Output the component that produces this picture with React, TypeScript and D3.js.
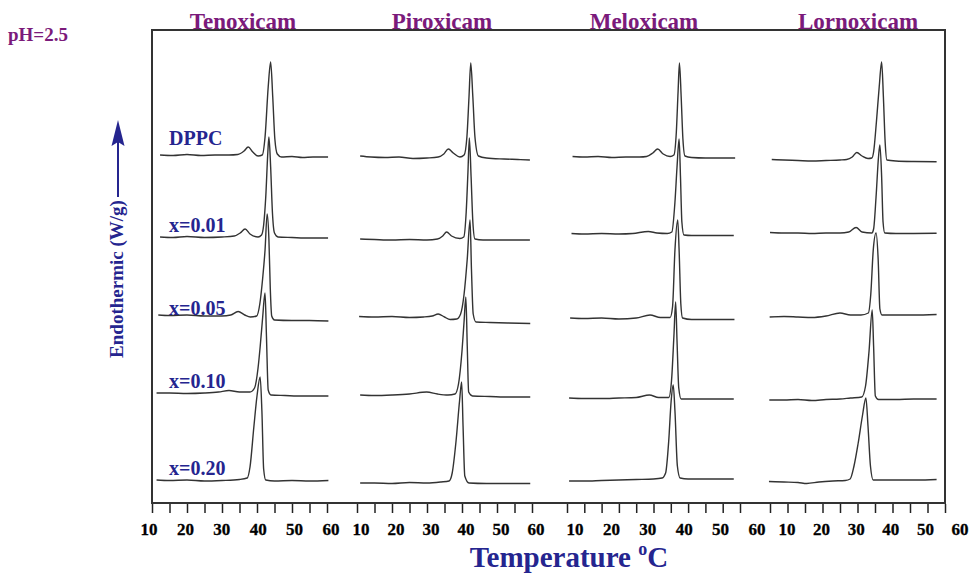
import { useRef, useEffect } from 'react';
import * as d3 from 'd3';

// drug panels and DPPC/drug compositions
const drugs = ['Tenoxicam', 'Piroxicam', 'Meloxicam', 'Lornoxicam'];
const compositions = ['DPPC', 'x=0.01', 'x=0.05', 'x=0.10', 'x=0.20'];
// vertical offset of each thermogram (arbitrary heat-flow units)
const baselineOffsets = [346, 266, 184, 107, 22];

const tickValues = [10, 15, 20, 25, 30, 35, 40, 45, 50, 55, 60];
const labelValues = [10, 20, 30, 40, 50, 60];

// [temperature (°C), heat flow above baseline]
const tenoxicamTraces = [
  [[12.3, 2], [16, 1.5], [20, 2.5], [24, 1.5], [28, 2], [32, 2], [34.5, 2.5], [36.3, 6], [37.5, 10], [38.8, 5], [40.3, 1], [41.5, 2], [42.3, 20], [43.2, 70], [43.9, 95], [44.5, 60], [45.1, 18], [45.8, 3], [47, 0], [50, 0.5], [53, -0.5], [56, 0], [60.3, 0]],
  [[12.3, 0], [16, -0.5], [20, 0.5], [25, -0.5], [30, 0], [33.5, 1], [35.2, 4], [36.6, 8], [38, 3], [40.3, 0], [41.3, 2], [41.9, 12], [42.5, 40], [43.1, 85], [43.4, 100], [43.9, 70], [44.4, 25], [45, 4], [46, 0], [50, -0.5], [55, -1], [60.3, -1]],
  [[11.8, 4], [15, 3.5], [20, 4], [25, 3], [30, 3], [32.5, 4], [34.6, 7.5], [36.5, 4], [38.1, 2], [39.9, 3], [40.8, 15], [41.6, 40], [42.3, 69], [42.9, 105], [43.4, 80], [43.8, 30], [44.2, 3], [45, -1], [50, -1.5], [55, -1.5], [60.4, -2]],
  [[11.3, 3], [15, 3], [20, 2.5], [25, 3], [29, 4], [32, 5.5], [35, 4], [38, 4], [39.3, 8], [40.3, 28], [40.9, 49], [41.6, 78], [42.3, 103], [42.7, 60], [43.2, 6], [44, 1], [48, 0.5], [53, 0], [60.4, 0]],
  [[11.3, 1], [15, 0.5], [20, 1], [25, 0], [30, 0.5], [35, 1.5], [37.2, 3], [38, 14], [39.1, 54], [40, 85], [40.9, 104], [41.4, 70], [41.9, 12], [42.5, 1], [45, 0], [50, 0.5], [55, 0], [60.4, 0.5]],
];

const piroxicamTraces = [
  [[10.9, 1], [14, 0], [18, -0.5], [22, 0], [26, -1.5], [30, -1], [33.2, 0], [34.8, 3], [36.1, 8], [37.5, 4], [39.4, 0], [40.6, 2], [41.4, 20], [42, 60], [42.5, 94], [43.1, 60], [43.7, 20], [44.7, 1], [47, -1], [52, -2], [56, -2.5], [59.4, -3]],
  [[10.9, -2], [15, -2.5], [20, -3], [25, -2.5], [30, -3], [33, -2], [34.5, 1], [35.6, 5], [37, 1], [39.4, -1.5], [40.5, 0], [41.2, 25], [41.7, 65], [42.1, 99], [42.6, 60], [43.1, 15], [43.7, -2], [46, -3], [50, -3], [55, -3], [59.4, -3]],
  [[10.6, 2.5], [15, 2], [20, 2.5], [25, 1.5], [29, 2], [31.5, 3], [33.2, 5], [35, 2], [36.6, -0.5], [38.5, 0], [39.6, 5], [40.6, 25], [41.5, 60], [42.3, 99], [42.7, 50], [43.2, 5], [44, -3], [48, -3.5], [53, -4], [59.5, -4.5]],
  [[10.9, 1], [15, 0.5], [20, 1], [25, 2], [29.9, 4], [33, 2], [36, 1], [38, 2], [39, 12], [40, 45], [40.6, 75], [41.1, 99], [41.5, 50], [41.9, 4], [43, 0], [48, -0.5], [54, -1], [59.5, -1]],
  [[10.9, -2], [15, -2], [20, -2.5], [25, -1.5], [30, -2], [34, -1], [36.3, 0], [37.2, 8], [38.3, 40], [39.3, 80], [39.9, 99], [40.3, 55], [40.8, 5], [42, -2], [47, -2.5], [53, -2.5], [59.5, -2.5]],
];

const meloxicamTraces = [
  [[11.6, 0.5], [15, 0], [19, 0.5], [23, -0.5], [27, 0], [31, 0], [33, 0.5], [34.8, 4], [36.2, 8], [37.8, 3], [39.8, 0.5], [40.9, 2], [41.6, 25], [42.1, 65], [42.5, 94], [43, 60], [43.5, 18], [44.1, 1], [46, -0.5], [50, -1], [55, -1], [58.6, -1]],
  [[11.3, 3.5], [15, 3], [20, 3.5], [25, 3], [29, 3.5], [33.5, 5.5], [36, 4], [39, 3.5], [40.3, 5], [41.2, 35], [41.8, 70], [42.4, 98], [42.8, 60], [43.2, 15], [43.8, 2], [46, 1.5], [52, 1.5], [58.2, 1.5]],
  [[10.9, 1], [15, 0.5], [20, 1], [25, 0], [30, 1], [34, 4], [37, 1.5], [39.8, 1.5], [40.5, 12], [41.2, 69], [42, 99], [42.4, 69], [42.9, 15], [43.4, 1], [46, -0.5], [51, -0.5], [58.4, -0.5]],
  [[10.6, -2], [15, -2.5], [20, -2.5], [25, -2], [30, -1.5], [33.8, 1], [36.5, -1.5], [39.4, -1.5], [40.2, 15], [40.9, 60], [41.4, 94], [41.8, 55], [42.3, 8], [43, -3], [47, -3], [53, -3], [58.2, -3]],
  [[10.6, 0], [15, 0], [20, 0.5], [25, 1], [30, 1.5], [35, 2], [37.5, 3], [38.5, 8], [39.4, 40], [40.1, 80], [40.7, 96], [41.2, 70], [41.9, 15], [42.7, 3], [45, 2], [50, 2], [58.2, 2]],
];

const lornoxicamTraces = [
  [[10.5, -2.5], [14, -3], [18, -3.5], [22, -4], [26, -3.5], [30, -3], [31.9, -2.5], [33.5, 0], [34.8, 4.5], [36.3, 1], [38, -1.5], [39.1, -1], [39.6, 5], [40.4, 35], [41.2, 70], [41.9, 95], [42.4, 60], [42.9, 15], [43.4, -3], [46, -4], [51, -4.5], [57.6, -4.7]],
  [[10, 4.5], [14, 4], [18, 4], [22, 3.5], [26, 4], [30, 4], [32.5, 5], [34.6, 9.5], [36.3, 5], [39.1, 4], [39.6, 8], [40.3, 40], [41, 80], [41.4, 92], [41.9, 60], [42.3, 15], [42.8, 4], [46, 3.5], [51, 3.5], [57.6, 3.7]],
  [[9.9, 2], [14, 2.5], [18, 2], [22, 1.5], [26, 3], [30, 6], [33, 4], [36, 4], [38.1, 6], [38.8, 25], [39.5, 69], [40.3, 86], [40.9, 60], [41.4, 10], [42, 4], [46, 4], [51, 4], [57.6, 4.5]],
  [[9.8, -4], [14, -4], [18, -3.5], [22, -4.5], [26, -3.5], [30, -3], [33, -2], [36.2, -1], [37.3, 10], [38.3, 45], [39.2, 86], [39.6, 50], [40.1, 0], [41, -3.5], [46, -3.5], [51, -3], [57.6, -3]],
  [[9.7, -0.5], [14, -1], [18, -1.5], [20.5, -2.5], [24, -1], [28, 0], [31.5, 0.5], [32.9, 2], [34, 15], [35.2, 38], [36.4, 65], [37.4, 83], [38, 55], [38.7, 15], [39.5, 1], [42, 1], [47, 1], [52, 1], [57.6, 1.5]],
];

const panelTraces = [tenoxicamTraces, piroxicamTraces, meloxicamTraces, lornoxicamTraces];

function DscChart() {
  const ref = useRef(null);

  useEffect(() => {
    const container = ref.current;
    if (!container) return;
    container.innerHTML = '';

    const width = 971;
    const height = 577;
    const frame = { left: 152, right: 945, top: 30, bottom: 503 };
    const font = '"Liberation Serif", "Times New Roman", serif';
    const purple = '#7b1a7b';
    const navy = '#25258f';

    // each panel: where the 10..60 ticks sit, and where the printed labels sit
    const panels = [
      { ticks: [152, 327], labels: [149, 331], titleX: 243 },
      { ticks: [357, 532], labels: [361, 536], titleX: 442 },
      { ticks: [567, 740], labels: [575, 757], titleX: 644 },
      { ticks: [770, 945], labels: [787, 960], titleX: 858 },
    ];

    const svg = d3.select(container)
      .append('svg')
      .attr('width', width)
      .attr('height', height)
      .style('position', 'absolute')
      .style('left', 0)
      .style('top', 0)
      .style('background', '#fff');

    const y = d3.scaleLinear()
      .domain([0, frame.bottom - frame.top])
      .range([frame.bottom, frame.top]);

    svg.append('rect')
      .attr('x', frame.left)
      .attr('y', frame.top)
      .attr('width', frame.right - frame.left)
      .attr('height', frame.bottom - frame.top)
      .attr('fill', 'none')
      .attr('stroke', '#333')
      .attr('stroke-width', 2);

    panels.forEach((p, i) => {
      const x = d3.scaleLinear().domain([10, 60]).range(p.ticks);
      const xl = d3.scaleLinear().domain([10, 60]).range(p.labels);

      // tick marks
      const ax = svg.append('g')
        .attr('transform', `translate(0,${frame.bottom + 1})`)
        .call(d3.axisBottom(x).tickValues(tickValues).tickSize(9).tickFormat(() => ''));
      ax.select('.domain').remove();
      ax.selectAll('line').attr('stroke', '#222').attr('stroke-width', 1.5);

      // tick labels (printed slightly off the marks in the original)
      svg.append('g')
        .selectAll('text')
        .data(labelValues)
        .enter()
        .append('text')
        .attr('x', d => xl(d))
        .attr('y', 535)
        .attr('text-anchor', 'middle')
        .attr('font-family', font)
        .attr('font-weight', 'bold')
        .attr('font-size', 17)
        .attr('fill', '#000')
        .attr('stroke', '#000')
        .attr('stroke-width', 0.3)
        .text(d => d);

      svg.append('text')
        .attr('x', p.titleX)
        .attr('y', 29)
        .attr('text-anchor', 'middle')
        .attr('font-family', font)
        .attr('font-weight', 'bold')
        .attr('font-size', 23)
        .attr('fill', purple)
        .text(drugs[i]);

      const traces = panelTraces[i];
      traces.forEach((trace, j) => {
        const line = d3.line()
          .x(d => x(d[0]))
          .y(d => y(baselineOffsets[j] + d[1]))
          .curve(d3.curveMonotoneX);
        svg.append('path')
          .datum(trace)
          .attr('d', line)
          .attr('fill', 'none')
          .attr('stroke', '#333')
          .attr('stroke-width', 1.4)
          .attr('stroke-linejoin', 'round');
      });
    });

    // composition labels in the first panel
    const labelLift = [12, 5, 4, 8, 6];
    svg.append('g')
      .selectAll('text')
      .data(compositions)
      .enter()
      .append('text')
      .attr('x', 169)
      .attr('y', (d, j) => y(baselineOffsets[j]) - labelLift[j])
      .attr('font-family', font)
      .attr('font-weight', 'bold')
      .attr('font-size', 20)
      .attr('fill', navy)
      .text(d => d);

    svg.append('text')
      .attr('x', 8)
      .attr('y', 41)
      .attr('font-family', font)
      .attr('font-weight', 'bold')
      .attr('font-size', 19)
      .attr('fill', purple)
      .text('pH=2.5');

    // y axis title with arrow
    svg.append('text')
      .attr('transform', 'translate(123,279) rotate(-90)')
      .attr('text-anchor', 'middle')
      .attr('font-family', font)
      .attr('font-weight', 'bold')
      .attr('font-size', 19)
      .attr('fill', navy)
      .text('Endothermic (W/g)');

    svg.append('line')
      .attr('x1', 118).attr('x2', 118)
      .attr('y1', 197).attr('y2', 140)
      .attr('stroke', navy)
      .attr('stroke-width', 2);
    svg.append('path')
      .attr('d', 'M118,120 L124.5,146 L118,142 L111.5,146 Z')
      .attr('fill', navy);

    // x axis title
    const xt = svg.append('text')
      .attr('x', 569)
      .attr('y', 567)
      .attr('text-anchor', 'middle')
      .attr('font-family', font)
      .attr('font-weight', 'bold')
      .attr('font-size', 29)
      .attr('fill', navy);
    xt.append('tspan').text('Temperature ');
    xt.append('tspan').attr('font-size', 18).attr('dy', -12).text('o');
    xt.append('tspan').attr('dy', 12).text('C');
  }, []);

  return <div ref={ref}></div>;
}

export default function App() {
  return <DscChart />;
}
